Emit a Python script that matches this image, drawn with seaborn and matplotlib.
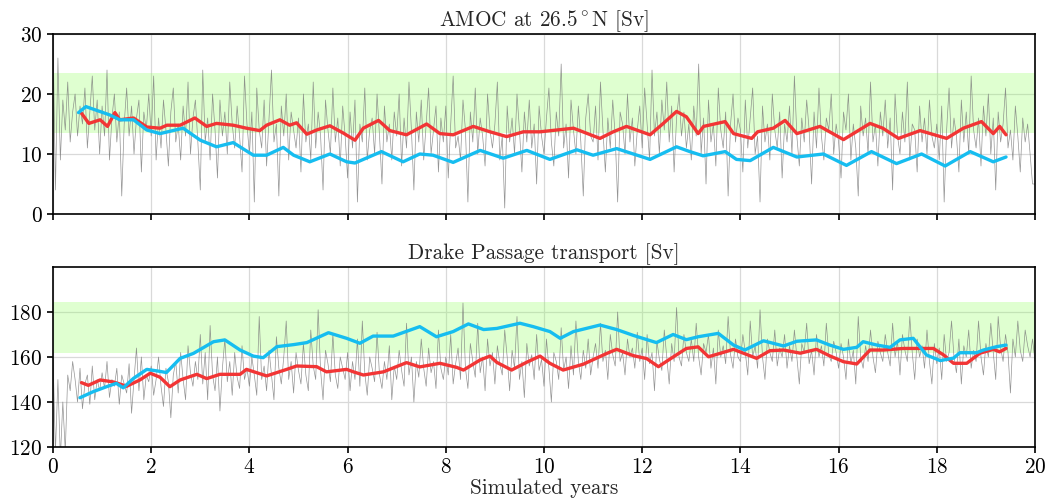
import numpy as np
import pandas as pd
import matplotlib
matplotlib.use("Agg")
import matplotlib.pyplot as plt
import seaborn as sns

# ---------------- data ----------------
years_start, years_end = 0.0, 20.0

amoc_raw = [
    30, 4, 26, 9, 19, 14, 22, 12, 17, 20, 13, 18, 15, 21, 11, 17, 23, 14, 19, 10,
    18, 13, 24, 9, 16, 20, 12, 17, 3, 15, 21, 13, 18, 10, 16, 19, 7, 17, 14, 20,
    13, 23, 9, 16, 11, 19, 14, 8, 17, 21, 12, 15, 9, 18, 13, 22, 10, 16, 19, 12,
    4, 24, 12, 16, 9, 20, 14, 6, 19, 13, 17, 10, 22, 15, 11, 18, 13, 7, 23, 15,
    10, 17, 2, 21, 14, 11, 19, 8, 16, 24, 12, 15, 3, 18, 13, 20, 9, 17, 14, 11,
    16, 7, 20, 12, 15, 9, 22, 11, 17, 13, 4, 19, 14, 10, 21, 12, 16, 8, 18, 13,
    6, 17, 11, 19, 2, 15, 12, 21, 9, 14, 16, 10, 20, 13, 5, 18, 12, 15, 9, 17,
    13, 20, 8, 16, 11, 22, 14, 4, 17, 12, 19, 9, 15, 21, 10, 14, 18, 7, 16, 12,
    18, 6, 15, 23, 11, 13, 9, 19, 14, 2, 17, 12, 21, 10, 16, 13, 8, 20, 14, 11,
    15, 22, 9, 13, 1, 18, 12, 16, 10, 20, 14, 7, 17, 12, 19, 11, 15, 5, 18, 13,
    10, 16, 21, 12, 8, 17, 13, 25, 11, 15, 6, 19, 14, 10, 18, 12, 3, 16, 20, 13,
    12, 18, 9, 22, 14, 7, 16, 11, 19, 13, 2, 17, 15, 10, 20, 12, 16, 8, 14, 18,
    11, 21, 15, 9, 24, 13, 17, 10, 19, 14, 22, 12, 18, 7, 16, 20, 13, 17, 11, 15,
    9, 18, 13, 25, 10, 16, 5, 19, 12, 15, 8, 21, 14, 11, 17, 3, 15, 20, 12, 16,
    14, 7, 19, 11, 16, 21, 10, 13, 2, 18, 12, 15, 9, 20, 14, 11, 17, 6, 15, 12,
    18, 10, 23, 13, 8, 16, 12, 19, 14, 5, 17, 11, 21, 13, 9, 16, 14, 20, 10, 15,
    12, 6, 17, 14, 20, 9, 15, 11, 3, 18, 13, 16, 10, 22, 12, 15, 8, 17, 13, 19,
    11, 16, 4, 20, 13, 10, 17, 12, 22, 9, 15, 14, 7, 18, 12, 16, 10, 19, 13, 11,
    15, 9, 18, 2, 14, 21, 11, 16, 13, 7, 19, 12, 17, 10, 23, 14, 11, 16, 8, 18,
    13, 20, 10, 16, 4, 17, 12, 15, 21, 11, 14, 9, 18, 13, 7, 16, 12, 15, 10, 5,
    5,
]

drake_raw = [
    160, 118, 150, 115, 140, 118, 152, 145, 158, 150, 140, 155, 137, 148, 152, 139, 156, 141, 150, 145,
    153, 146, 158, 142, 150, 147, 155, 139, 152, 148, 144, 157, 135, 150, 164, 145, 160, 141, 152, 149,
    156, 143, 150, 160, 147, 138, 155, 149, 133, 152, 158, 144, 162, 150, 141, 165, 153, 147, 158, 150,
    170, 148, 162, 141, 174, 152, 145, 160, 136, 155, 168, 149, 158, 143, 162, 151, 146, 165, 150, 155,
    147, 160, 152, 143, 178, 150, 156, 145, 163, 152, 141, 169, 155, 148, 160, 176, 150, 158, 144, 162,
    154, 148, 166, 152, 145, 172, 156, 150, 181, 154, 141, 163, 157, 149, 170, 152, 146, 160, 155, 150,
    162, 145, 158, 150, 168, 147, 176, 153, 143, 160, 155, 149, 171, 152, 146, 158, 150, 165, 141, 156,
    150, 163, 154, 147, 175, 152, 160, 140, 158, 151, 168, 155, 147, 164, 153, 158, 146, 172, 155, 150,
    160, 152, 170, 148, 157, 164, 150, 184, 155, 146, 166, 158, 151, 175, 153, 160, 145, 168, 156, 162,
    148, 165, 157, 152, 172, 160, 145, 163, 155, 178, 150, 158, 142, 166, 156, 161, 150, 170, 154, 159,
    147, 168, 155, 140, 162, 158, 150, 173, 154, 160, 146, 165, 152, 176, 158, 150, 163, 155, 168, 152,
    160, 166, 155, 175, 158, 163, 150, 170, 161, 156, 180, 158, 162, 152, 168, 160, 164, 155, 171, 158,
    164, 150, 170, 157, 162, 145, 167, 159, 154, 172, 160, 148, 166, 158, 182, 160, 156, 170, 162, 158,
    168, 158, 175, 160, 152, 166, 162, 170, 155, 164, 148, 172, 160, 165, 157, 178, 161, 155, 168, 160,
    158, 170, 162, 152, 176, 160, 165, 155, 181, 160, 150, 168, 162, 158, 172, 156, 164, 160, 170, 155,
    165, 158, 172, 160, 148, 166, 162, 175, 157, 163, 152, 170, 160, 165, 156, 175, 161, 158, 167, 162,
    155, 166, 160, 150, 168, 157, 163, 148, 178, 160, 155, 165, 158, 172, 160, 153, 167, 162, 158, 170,
    162, 156, 175, 160, 167, 152, 170, 163, 158, 178, 162, 150, 168, 160, 165, 155, 172, 158, 148, 166,
    157, 164, 150, 170, 158, 162, 176, 160, 153, 168, 148, 165, 160, 172, 155, 163, 158, 176, 160, 152,
    166, 160, 175, 162, 150, 178, 164, 158, 170, 162, 144, 168, 160, 176, 163, 158, 172, 165, 160, 168,
    158,
]

amoc_red_t = [0.58, 0.73, 0.96, 1.11, 1.26, 1.36, 1.64, 1.91, 2.18, 2.32, 2.59, 2.89, 3.13, 3.33, 3.67,
              3.94, 4.21, 4.35, 4.62, 4.82, 4.96, 5.17, 5.37, 5.64, 5.91, 6.15, 6.32, 6.63, 6.86, 7.2,
              7.61, 7.88, 8.15, 8.56, 8.9, 9.24, 9.58, 9.92, 10.6, 11.14, 11.41, 11.68, 12.16, 12.43,
              12.7, 12.9, 13.14, 13.25, 13.69, 13.86, 14.23, 14.35, 14.67, 14.91, 15.15, 15.62, 16.1,
              16.64, 16.9, 17.22, 17.66, 18.2, 18.54, 18.91, 19.15, 19.28, 19.41]
amoc_red_v = [16.8, 15.1, 15.7, 14.6, 16.9, 15.7, 16.0, 14.5, 14.3, 14.8, 14.8, 16.0, 14.6, 15.1, 14.8,
              14.3, 13.9, 14.8, 15.7, 14.8, 15.2, 13.3, 14.0, 14.7, 13.5, 12.3, 14.3, 15.6, 13.9, 13.2,
              15.0, 13.4, 13.2, 14.6, 13.7, 12.9, 13.7, 13.7, 14.3, 12.6, 13.7, 14.6, 13.2, 15.1,
              17.1, 16.2, 13.4, 14.6, 15.4, 13.4, 12.6, 13.7, 14.3, 15.6, 13.4, 14.6, 12.4,
              15.1, 14.3, 12.6, 13.9, 12.6, 14.3, 15.4, 13.4, 14.6, 13.2]

amoc_blue_t = [0.52, 0.67, 1.16, 1.36, 1.64, 1.91, 2.18, 2.65, 3.0, 3.33, 3.67, 4.08, 4.35, 4.69, 4.9,
               5.23, 5.64, 5.98, 6.15, 6.69, 7.13, 7.47, 7.74, 8.15, 8.7, 9.17, 9.65, 10.12, 10.67,
               11.0, 11.48, 12.16, 12.7, 12.97, 13.24, 13.69, 13.92, 14.2, 14.67, 15.15, 15.69, 16.16,
               16.67, 17.18, 17.69, 18.17, 18.68, 19.15, 19.41]
amoc_blue_v = [16.9, 17.9, 16.5, 15.7, 15.7, 14.0, 13.4, 14.3, 12.3, 11.2, 11.9, 9.8, 9.8, 11.1, 9.8,
               8.7, 10.0, 8.7, 8.5, 10.4, 8.7, 10.0, 9.8, 8.6, 10.6, 9.3, 10.6, 9.1, 10.7,
               9.8, 10.9, 9.1, 11.2, 10.4, 9.7, 10.4, 9.1, 8.9, 11.1, 9.5, 10.0, 8.1,
               10.4, 8.4, 10.0, 8.0, 10.4, 8.7, 9.5]

drake_red_t = [0.58, 0.72, 0.96, 1.23, 1.5, 1.77, 1.98, 2.18, 2.38, 2.59, 2.93, 3.13, 3.4, 3.81, 3.94,
               4.35, 4.76, 4.96, 5.37, 5.57, 5.98, 6.12, 6.32, 6.73, 7.2, 7.47, 7.88, 8.22, 8.36, 8.7,
               8.9, 9.04, 9.34, 9.65, 9.92, 10.12, 10.39, 10.8, 11.28, 11.48, 11.82, 12.09, 12.33,
               12.63, 12.9, 13.14, 13.35, 13.86, 14.33, 14.6, 14.88, 15.22, 15.55, 15.82, 16.1, 16.37,
               16.64, 16.91, 17.32, 17.66, 17.93, 18.14, 18.34, 18.61, 18.88, 19.15, 19.28, 19.41]
drake_red_v = [148.6, 147.4, 149.8, 148.9, 147.0, 149.8, 152.8, 151.0, 146.8, 149.8, 152.3, 150.4, 152.3,
               152.3, 154.5, 151.6, 154.5, 156.0, 155.7, 153.4, 154.5, 153.4, 152.0, 153.4, 157.5,
               155.6, 157.2, 155.4, 154.2, 158.7, 160.4, 157.6, 154.2, 157.7, 160.4, 157.2, 154.2,
               156.8, 161.6, 163.4, 160.6, 159.3, 155.7, 160.0, 163.8, 164.5, 160.1, 163.4, 159.4,
               162.8, 163.1, 161.7, 163.4, 160.5, 157.9, 156.9, 163.1, 163.1, 163.8, 163.8, 163.8,
               160.9, 157.2, 157.2, 161.7, 163.4, 162.3, 163.8]

drake_blue_t = [0.55, 0.82, 1.09, 1.29, 1.43, 1.64, 1.91, 2.18, 2.31, 2.59, 2.86, 3.27, 3.5, 3.81, 4.08,
                4.28, 4.56, 4.9, 5.17, 5.61, 5.98, 6.25, 6.52, 6.93, 7.47, 7.81, 8.15, 8.46, 8.77, 9.04,
                9.51, 9.78, 10.12, 10.33, 10.6, 11.14, 11.48, 11.82, 12.29, 12.63, 12.9, 13.14, 13.55,
                13.86, 14.09, 14.47, 14.88, 15.15, 15.55, 15.82, 16.1, 16.37, 16.5, 16.78, 17.05, 17.25,
                17.52, 17.79, 18.07, 18.34, 18.47, 18.81, 18.95, 19.22, 19.41]
drake_blue_v = [141.9, 144.6, 146.8, 148.3, 146.3, 150.5, 154.5, 153.6, 153.1, 159.4, 161.6, 166.8, 167.6,
                163.1, 160.4, 159.7, 164.6, 165.5, 166.4, 170.8, 168.3, 166.1, 169.3, 169.3, 173.5,
                169.0, 171.3, 174.7, 172.2, 172.7, 175.0, 173.5, 171.3, 168.3, 171.3, 174.2, 172.2,
                169.6, 166.4, 170.0, 167.7, 169.0, 170.5, 165.3, 163.1, 167.2, 164.9, 167.0, 167.6,
                165.3, 163.4, 164.3, 166.8, 165.3, 164.3, 167.6, 168.3, 160.9, 158.4, 159.5, 161.9,
                161.9, 163.1, 164.6, 165.3]

amoc_obs_band = (13.5, 23.5)
drake_obs_band = (162.0, 184.5)

titles = ["AMOC at 26.5$^\\circ$N [Sv]", "Drake Passage transport [Sv]"]
xlabel = "Simulated years"
x_ticks = [0, 2, 4, 6, 8, 10, 12, 14, 16, 18, 20]
amoc_yticks = [0, 10, 20, 30]
drake_yticks = [120, 140, 160, 180]

# ---------------- style ----------------
sns.set_style("ticks")
plt.rcParams["font.family"] = ["cmr10", "DejaVu Serif"]
plt.rcParams["mathtext.fontset"] = "cm"
plt.rcParams["axes.formatter.use_mathtext"] = True
plt.rcParams["axes.unicode_minus"] = False

FS = 15.3
RED = "#f23535"
BLUE = "#16bdf0"
GRAY = "#7a7a7a"
BAND = (0.55, 1.0, 0.35, 0.28)

fig = plt.figure(figsize=(10.58, 5.03), dpi=100)
ax1 = fig.add_axes([53 / 1058, 1 - 214 / 503, 982 / 1058, 180 / 503])
ax2 = fig.add_axes([53 / 1058, 1 - 447 / 503, 982 / 1058, 180 / 503])


def draw(ax, raw, red_t, red_v, blue_t, blue_v, band, yticks, ylim, title):
    t_raw = np.linspace(years_start, years_end, len(raw))
    ax.axhspan(band[0], band[1], color=BAND, lw=0, zorder=1)
    sns.lineplot(x=t_raw, y=raw, ax=ax, color=GRAY, lw=0.5, alpha=0.8, zorder=2)
    sns.lineplot(x=red_t, y=red_v, ax=ax, color=RED, lw=2.4, zorder=3)
    sns.lineplot(x=blue_t, y=blue_v, ax=ax, color=BLUE, lw=2.4, zorder=4)
    ax.set_xlim(years_start, years_end)
    ax.set_ylim(*ylim)
    ax.set_xticks(x_ticks)
    ax.set_yticks(yticks)
    ax.grid(True, color="#d9d9d9", lw=0.9, zorder=0)
    ax.set_axisbelow(True)
    ax.set_title(title, fontsize=FS, pad=6)
    ax.tick_params(direction="out", length=4.5, width=1.2, labelsize=FS, colors="black", pad=3)
    for s in ax.spines.values():
        s.set_visible(True)
        s.set_color("black")
        s.set_linewidth(1.2)
    ax.set_ylabel("")


draw(ax1, amoc_raw, amoc_red_t, amoc_red_v, amoc_blue_t, amoc_blue_v,
     amoc_obs_band, amoc_yticks, (0, 30), titles[0])
draw(ax2, drake_raw, drake_red_t, drake_red_v, drake_blue_t, drake_blue_v,
     drake_obs_band, drake_yticks, (120, 200), titles[1])
ax1.set_xticklabels([])
ax1.set_xlabel("")
ax2.set_xlabel(xlabel, fontsize=FS, labelpad=1)

fig.savefig("out.png", dpi=100)
